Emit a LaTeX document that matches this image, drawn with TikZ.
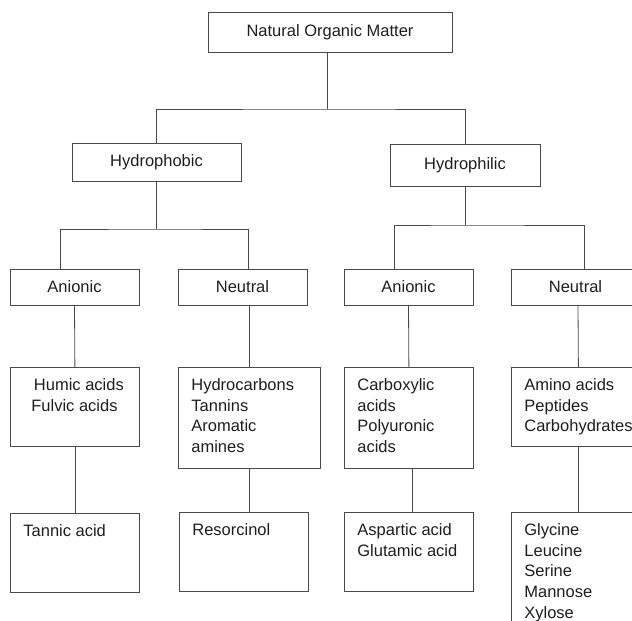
\documentclass[tikz,border=0pt]{standalone}
\usepackage{fontspec}
\setmainfont{Liberation Sans}
\usepackage{tikz}
\definecolor{nomLine}{HTML}{4A4A4A}
\definecolor{nomText}{HTML}{1E1E1E}
\tikzset{
  box/.style={draw=nomLine, line width=0.8pt, text=nomText, inner sep=0pt},
  listbox/.style 2 args={box, anchor=north west, inner xsep=13pt, inner ysep=11pt,
    execute at begin node={\begin{minipage}[t][#2][t]{#1}},
    execute at end node={\end{minipage}}},
  link/.style={draw=nomLine, line width=0.8pt}
}

\begin{document}
\begin{tikzpicture}[x=1pt, y=-1pt, font=\fontsize{16.5}{20.7}\selectfont]
  \useasboundingbox (0,0) rectangle (632,621);

  % top levels
  \node[box, minimum width=244, minimum height=40] (nom) at (330,32) {Natural Organic Matter};
  \node[box, minimum width=169, minimum height=38] (phob) at (156.5,162) {Hydrophobic};
  \node[box, minimum width=150, minimum height=42] (phil) at (465,165) {Hydrophilic};

  \foreach \x/\name/\lbl in {74.5/an1/Anionic, 242.5/neu1/Neutral, 408.5/an2/Anionic, 575.5/neu2/Neutral}{
    \node[box, minimum width=129, minimum height=36] (\name) at (\x,287) {\lbl};
  }

  % fractions
  \node[listbox={103pt}{57pt}] (humic) at (10,367) {\centering\hspace*{8pt}Humic acids\par\hspace*{8pt}Fulvic acids};
  \node[listbox={116pt}{79pt}] (hc) at (178,367) {Hydrocarbons\\Tannins\\Aromatic\\amines};
  \node[listbox={103pt}{79pt}] (carb) at (344,367) {Carboxylic\\acids\\Polyuronic\\acids};
  \node[listbox={103pt}{57pt}] (amino) at (511,367) {Amino acids\\Peptides\\Carbohydrates};

  % examples
  \node[listbox={103pt}{57pt}] (tannic) at (10,513) {Tannic acid};
  \node[listbox={103pt}{57pt}] (res) at (179,512) {Resorcinol};
  \node[listbox={103pt}{57pt}] (asp) at (344,512) {Aspartic acid\\Glutamic acid};
  \node[listbox={103pt}{98pt}] (gly) at (511,512) {Glycine\\Leucine\\Serine\\Mannose\\Xylose};

  % connectors
  \coordinate (j0) at (327,109);
  \coordinate (j1) at (156,229);
  \coordinate (j2) at (466,225);
  \draw[link] (nom.south -| j0) -- (j0);
  \draw[link] (phob.north) |- (j0) -| (phil.north);
  \draw[link] (phob.south) -- (phob.south |- j1);
  \draw[link] ([xshift=-14.5pt]an1.north) |- (j1) -| ([xshift=5.5pt]neu1.north);
  \draw[link] (phil.south) -- (phil.south |- j2);
  \draw[link] ([xshift=-14.5pt]an2.north) |- (j2) -| ([xshift=8.5pt]neu2.north);

  \draw[link] (an1.south) -- (humic.north);
  \draw[link] (hc.north |- neu1.south) -- (hc.north);
  \draw[link] (an2.south) -- (carb.north);
  \draw[link] ([xshift=2.5pt]neu2.south) -- ([xshift=2.5pt]amino.north);

  \draw[link] (humic.south) -- (tannic.north);
  \draw[link] (hc.south) -- (hc.south |- res.north);
  \draw[link] ([xshift=3.5pt]carb.south) -- ([xshift=3.5pt]asp.north);
  \draw[link] ([xshift=2.5pt]amino.south) -- ([xshift=2.5pt]gly.north);
\end{tikzpicture}
\end{document}
